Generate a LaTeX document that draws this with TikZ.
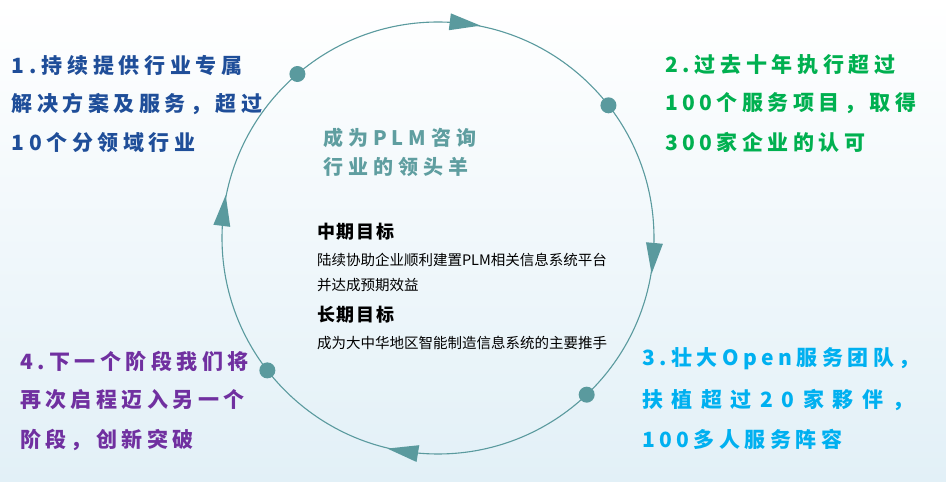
\documentclass[tikz,border=0pt]{standalone}
\usepackage{fontspec}
\usetikzlibrary{calc}
\newfontfamily\cjk{Noto Sans CJK SC}
\newfontfamily\cjkA{Noto Sans CJK SC}[LetterSpace=21.4]
\newfontfamily\cjkW{Noto Sans CJK SC}[LetterSpace=22.5]
\newfontfamily\cjkX{Noto Sans CJK SC}[LetterSpace=41]
\newfontfamily\cjkT{Noto Sans CJK SC}[LetterSpace=25]
\newfontfamily\cjkH{Noto Sans CJK SC}[LetterSpace=11]
\definecolor{tblue}{HTML}{1F4E99}
\definecolor{tgreen}{HTML}{00B050}
\definecolor{tcyan}{HTML}{00B0F0}
\definecolor{tpurple}{HTML}{7030A0}
\definecolor{teal1}{HTML}{5A9A9E}
\definecolor{ttitle}{HTML}{5F9EA0}
\definecolor{bgb}{HTML}{E2F0F7}
\begin{document}
\begin{tikzpicture}[x=1pt,y=1pt,
  lbl/.style={anchor=base west,inner sep=0pt,outer sep=0pt},
  big/.style={lbl,font=\fontsize{21}{21}\selectfont\bfseries},
  ring/.style={draw=teal1,line width=1.1pt},
  dotm/.style={fill=teal1},
  tipm/.style={fill=teal1}]
\useasboundingbox (0,0) rectangle (946,482);
\shade[top color=white,middle color=white!80!bgb,bottom color=bgb] (0,0) rectangle (946,482);
\coordinate (O) at (438,244);
\draw[ring] (O) circle[radius=216];
% dots
\foreach \a in {130.6,37.9,217.8,-46.5}
  \fill[dotm] ($(O)+(\a:216)$) circle[radius=8];
% arrow heads (clockwise)
\foreach \a in {82.9,-5.3,260.7,172.8}{
  \begin{scope}[shift={($(O)+(\a:216)$)},rotate=\a-90]
    \fill[tipm] (16,0) -- (-15,8.5) -- (-15,-8.5) -- cycle;
  \end{scope}}
% block 1
\node[big,text=tblue] (b1a) at (12,408) {\cjkW 1.持续提供行业专属};
\node[big,text=tblue] (b1b) at (12,370) {\cjkA 解决方案及服务，超过};
\node[big,text=tblue] (b1c) at (12,331) {\cjkA 10个分领域行业};
% block 2
\node[big,text=tgreen] (b2a) at (665,409) {\cjkW 2.过去十年执行超过};
\node[big,text=tgreen] (b2b) at (665,371) {\cjkA 100个服务项目，取得};
\node[big,text=tgreen] (b2c) at (665,331) {\cjkA 300家企业的认可};
% block 3
\node[big,text=tcyan] (b3a) at (642,116) {\cjkA 3.壮大Open服务团队，};
\node[big,text=tcyan] (b3b) at (642,74) {\cjkX 扶植超过20家夥伴，};
\node[big,text=tcyan] (b3c) at (642,34) {\cjkA 100多人服务阵容};
% block 4
\node[big,text=tpurple] (b4a) at (20,112) {\cjkA 4.下一个阶段我们将};
\node[big,text=tpurple] (b4b) at (20,74) {\cjkA 再次启程迈入另一个};
\node[big,text=tpurple] (b4c) at (20,34) {\cjkA 阶段，创新突破};
% centre title
\node[lbl,text=ttitle,font=\fontsize{20}{20}\selectfont\bfseries] (t1) at (323,336) {\cjkT 成为PLM咨询};
\node[lbl,text=ttitle,font=\fontsize{20}{20}\selectfont\bfseries] (t2) at (323,307) {\cjkT 行业的领头羊};
% goals
\node[lbl,font=\fontsize{18}{18}\selectfont\bfseries] (g1) at (317,243) {\cjkH 中期目标};
\node[lbl,font=\fontsize{14.5}{14.5}\selectfont] (g1a) at (317,216.5) {\cjk 陆续协助企业顺利建置PLM相关信息系统平台};
\node[lbl,font=\fontsize{14.5}{14.5}\selectfont] (g1b) at (317,191.5) {\cjk 并达成预期效益};
\node[lbl,font=\fontsize{18}{18}\selectfont\bfseries] (g2) at (317,160) {\cjkH 长期目标};
\node[lbl,font=\fontsize{14.5}{14.5}\selectfont] (g2a) at (317,133.5) {\cjk 成为大中华地区智能制造信息系统的主要推手};
\end{tikzpicture}
\end{document}
